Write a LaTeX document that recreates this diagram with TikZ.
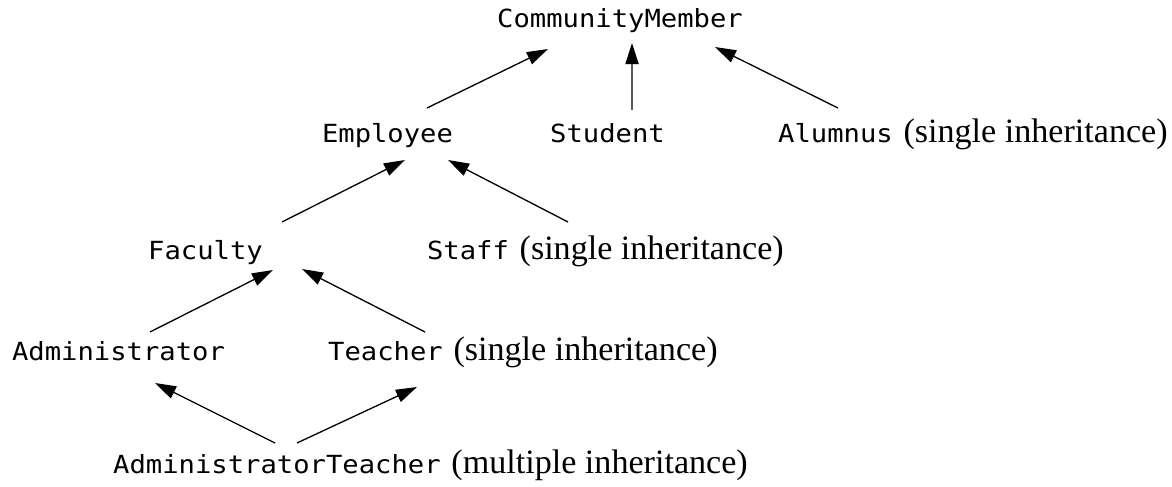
\documentclass[tikz,border=0pt]{standalone}
\usepackage{fontspec}
\setmainfont{Liberation Serif}
\newfontfamily\classfont[FakeStretch=1.09]{DejaVu Sans Mono}
\usetikzlibrary{positioning}
\usetikzlibrary{arrows.meta}

\begin{document}
\begin{tikzpicture}[
  class/.style={font=\classfont\fontsize{14.2pt}{17pt}\selectfont, inner sep=0pt},
  note/.style={font=\fontsize{19.4pt}{23pt}\selectfont, inner sep=0pt},
  inh/.style={-{Triangle[length=12pt, width=7.5pt]}, line width=0.75pt}
]
\useasboundingbox (0,0) rectangle (23.44,9.72);

% Classes (placed on their baselines)
\node[class, anchor=base] (cm) at (12.40,9.16) {CommunityMember};
\node[class, anchor=base] (emp) at (7.75,6.88) {Employee};
\node[class, anchor=base] (stu) at (12.15,6.88) {Student};
\node[class, anchor=base] (alu) at (16.71,6.88) {Alumnus};
\node[class, anchor=base] (fac) at (4.11,4.54) {Faculty};
\node[class, anchor=base] (sta) at (9.36,4.54) {Staff};
\node[class, anchor=base] (adm) at (2.37,2.52) {Administrator};
\node[class, anchor=base] (tea) at (7.71,2.52) {Teacher};
\node[class, anchor=base] (at) at (5.54,0.26) {AdministratorTeacher};

% Kind of inheritance
\node[note, right=0.2 of alu.base east, anchor=base west] (alunote) {(single inheritance)};
\node[note, right=0.2 of sta.base east, anchor=base west] (stanote) {(single inheritance)};
\node[note, right=0.2 of tea.base east, anchor=base west] (teanote) {(single inheritance)};
\node[note, right=0.2 of at.base east, anchor=base west] (atnote) {(multiple inheritance)};

% Inheritance arrows (subclass -> superclass)
\draw[inh] ([shift={(0.79,0.68)}]emp.base) -- ([shift={(-1.44,-0.42)}]cm.base);
\draw[inh] ([shift={(0.49,0.64)}]stu.base) -- ([shift={(0.24,-0.30)}]cm.base);
\draw[inh] ([shift={(0.05,0.68)}]alu.base) -- ([shift={(1.90,-0.38)}]cm.base);

\draw[inh] ([shift={(1.53,0.74)}]fac.base) -- ([shift={(0.35,-0.36)}]emp.base);
\draw[inh] ([shift={(2.00,0.74)}]sta.base) -- ([shift={(1.21,-0.36)}]emp.base);

\draw[inh] ([shift={(0.63,0.56)}]adm.base) -- ([shift={(1.35,-0.22)}]fac.base);
\draw[inh] ([shift={(0.79,0.56)}]tea.base) -- ([shift={(1.93,-0.20)}]fac.base);

\draw[inh] ([shift={(-0.04,0.60)}]at.base) -- ([shift={(0.73,-0.46)}]adm.base);
\draw[inh] ([shift={(0.40,0.60)}]at.base) -- ([shift={(0.63,-0.54)}]tea.base);

\end{tikzpicture}
\end{document}
